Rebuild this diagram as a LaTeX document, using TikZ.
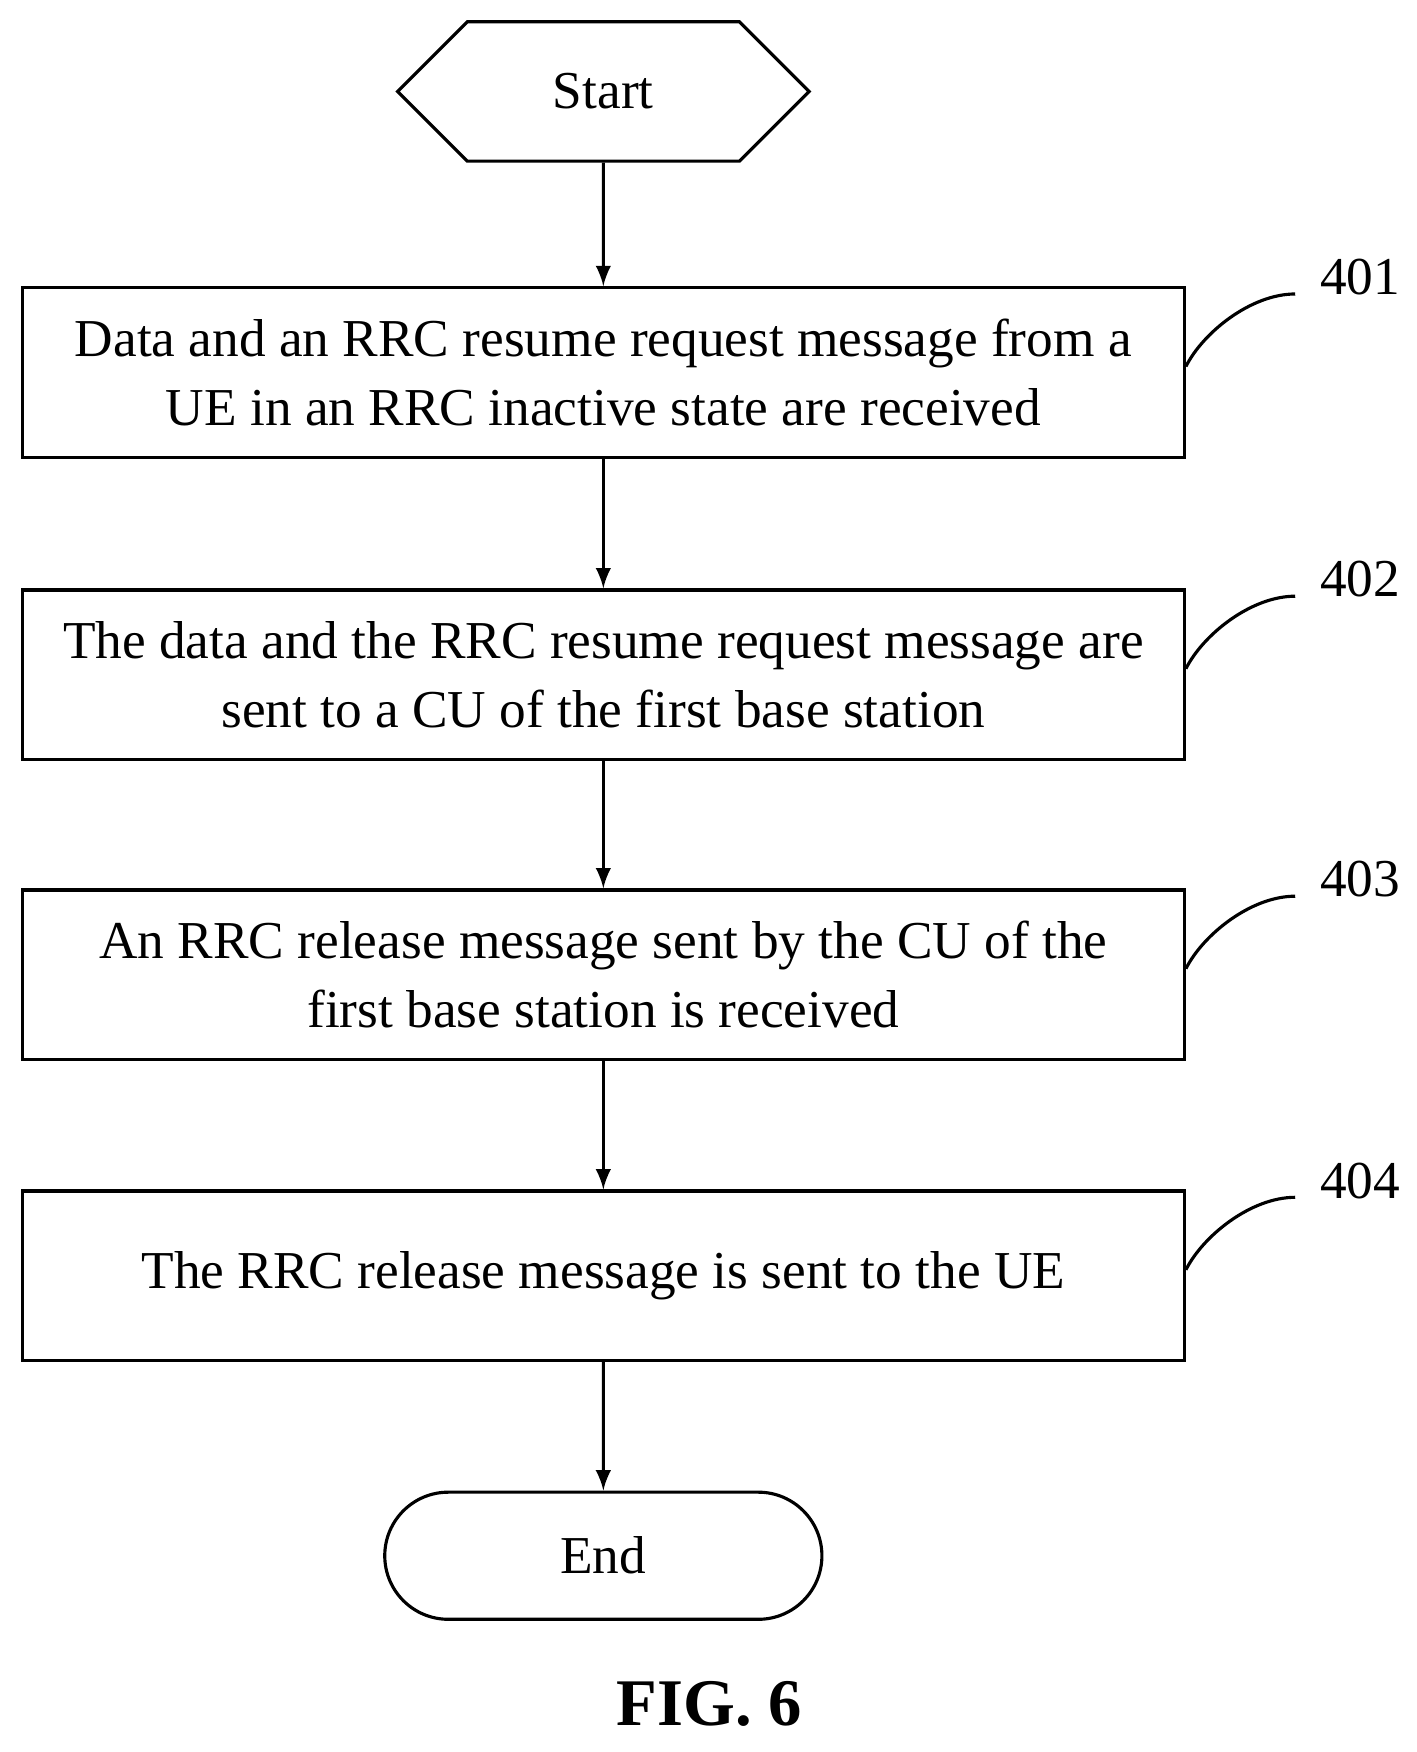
\documentclass[tikz,border=0pt]{standalone}
\usepackage{fontspec}
\setmainfont{Liberation Serif}
\usetikzlibrary{shapes.misc,shapes.symbols,positioning}
\tikzset{
	flowstep/.style={draw,thick,minimum width=10.42cm,minimum height=1.52cm,align=center,inner sep=0pt,font=\fontsize{13.6}{17.5}\selectfont},
	term/.style={draw,thick,font=\fontsize{13.6}{16}\selectfont,inner sep=0pt},
	num/.style={anchor=west,font=\fontsize{13.6}{16}\selectfont},
	arr/.style={thick,-latex},
}
\begin{document}
\begin{tikzpicture}[x=0.1mm,y=-0.1mm]
		\useasboundingbox (0,0) rectangle (1270,1571);
		
		\node[term,signal,signal to=east and west,signal pointer angle=90,minimum width=3.69cm,minimum height=1.25cm] at (541,82) (start) {Start};
		
		\node[flowstep] at (541,334) (s1) {Data and an RRC resume request message from a\\UE in an RRC inactive state are received};
		\node[flowstep] at (541,605) (s2) {The data and the RRC resume request message are\\sent to a CU of the first base station};
		\node[flowstep] at (541,874) (s3) {An RRC release message sent by the CU of the\\first base station is received};
		\node[flowstep] at (541,1144) (s4) {The RRC release message is sent to the UE};
		
		\node[term,rounded rectangle,minimum width=3.92cm,minimum height=1.14cm] at (541,1395) (end) {End};
		
		\node[font=\bfseries\fontsize{17}{20}\selectfont] at (636,1528) (fig) {FIG. 6};
		
		\draw[arr] (start) -- (s1);
		\draw[arr] (s1) -- (s2);
		\draw[arr] (s2) -- (s3);
		\draw[arr] (s3) -- (s4);
		\draw[arr] (s4) -- (end);
		
		\foreach \i/\n in {1/401,2/402,3/403,4/404}{
			\coordinate (c\i) at ([yshift=-0.72cm]s\i.north east);
			\node[num] at ([xshift=1.08cm,yshift=0.08cm]s\i.north east) (lab\i) {\n};
			\draw[thick] (c\i) .. controls +(0.15cm,0.3cm) and +(-0.4cm,0cm) .. ([xshift=-0.1cm,yshift=-0.15cm]lab\i.west);
		}
\end{tikzpicture}
\end{document}
